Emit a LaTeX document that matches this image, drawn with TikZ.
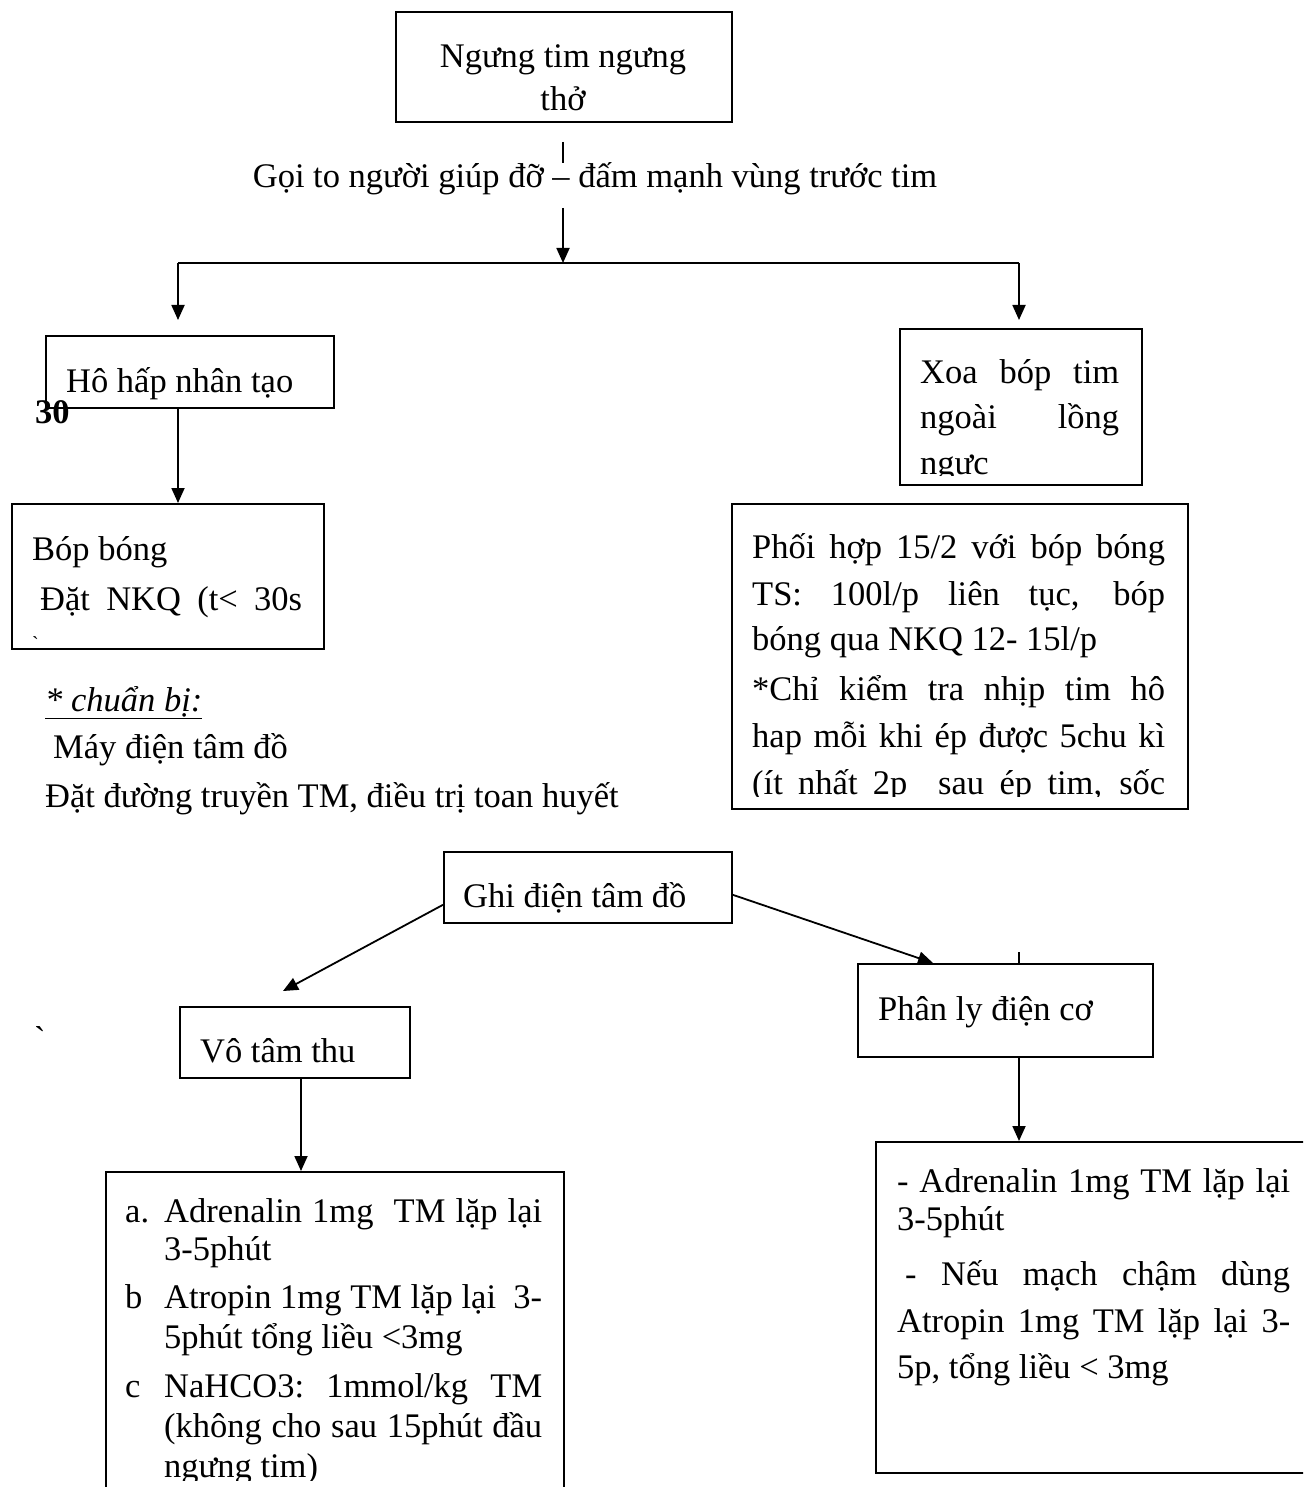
\documentclass[tikz,border=0pt]{standalone}
\usepackage{fontspec}
\setmainfont{Liberation Serif}
\usetikzlibrary{arrows.meta,calc}
\newcommand\myjust[2]{\makebox[#1pt][s]{#2}}
\tikzset{
  box/.style={draw, line width=1.8pt, rectangle, inner sep=0pt, anchor=north west},
  txt/.style={anchor=base west, inner sep=0pt, font=\fontsize{34.5}{46}\selectfont},
  ctxt/.style={txt, anchor=base},
  ln/.style={line width=1.8pt},
  arr/.style={line width=1.8pt, -{Triangle[length=15pt,width=13pt]}},
}
\begin{document}
\begin{tikzpicture}[x=1pt,y=-1pt]
\useasboundingbox (0,0) rectangle (1303,1487);
\clip (0,0) rectangle (1303,1487);
\fill[white] (0,0) rectangle (1303,1487);

% ---- boxes ----
\node[box, minimum width=336pt, minimum height=110pt] (top) at (395,11) {};
\node[box, minimum width=288pt, minimum height=72pt] (ho) at (45,335) {};
\node[box, minimum width=312pt, minimum height=145pt] (bop) at (11,503) {};
\node[box, minimum width=242pt, minimum height=156pt] (xoa) at (899,328) {};
\node[box, minimum width=456pt, minimum height=305pt] (phoi) at (731,503) {};
\node[box, minimum width=288pt, minimum height=71pt] (ghi) at (443,851) {};
\node[box, minimum width=230pt, minimum height=71pt] (vo) at (179,1006) {};
\node[box, minimum width=295pt, minimum height=93pt] (phan) at (857,963) {};
\node[box, minimum width=458pt, minimum height=340pt] (bl) at (105,1171) {};
\node[box, minimum width=432pt, minimum height=331pt] (br) at (875,1141) {};

% ---- reference coordinates ----
\coordinate (xL) at (178,0);
\coordinate (xC) at (563,0);
\coordinate (xR) at (1019,0);
\coordinate (xM) at (301,0);
\coordinate (tickA) at (563,142);
\coordinate (tickB) at (563,163);
\coordinate (arrS) at (563,208);
\coordinate (hL) at (178,263);
\coordinate (hR) at (1019,263);
\coordinate (hC) at (563,263);
\coordinate (tipL) at (178,320);
\coordinate (tipR) at (1019,320);
\coordinate (vtip) at (283,991);
\coordinate (ptick) at (1019,952);

% ---- connectors ----
\draw[ln] (tickA) -- (tickB);
\draw[arr] (arrS) -- (hC);
\draw[ln] (hL) -- (hR);
\draw[arr] (hL) -- (tipL);
\draw[arr] (hR) -- (tipR);
\draw[arr] (ho.south -| xL) -- (bop.north -| xL);
\draw[arr] ($(ghi.south west)+(0,-19)$) -- (vtip);
\draw[arr] ($(ghi.south east)+(0,-29)$) -- ($(phan.north west)+(76,0)$);
\draw[ln] (ptick) -- (phan.north -| xR);
\draw[arr] (phan.south -| xR) -- (br.north -| xR);
\draw[arr] (vo.south -| xM) -- (bl.north -| xM);

% ---- texts ----
\node[ctxt] (t1a) at (563,68) {Ngưng tim ngưng};
\node[ctxt] (t1b) at (563,111) {thở};
\node[ctxt] (goi) at (595,188) {Gọi to người giúp đỡ – đấm mạnh vùng trước tim};

\node[txt] (thot) at (66,392) {Hô hấp nhân tạo};
\node[txt, font=\fontsize{34.5}{46}\selectfont\bfseries] (n30) at (35,423) {30};

\node[txt] (bop1) at (32,560) {Bóp bóng};
\node[txt] (bop2) at (40,610) {\myjust{262}{Đặt NKQ (t< 30s}};
\node[txt, font=\fontsize{20}{24}\selectfont] (bq1) at (32,650) {\textasciigrave};

\begin{scope}
\clip (xoa.north west) rectangle (1141,475);
\node[txt] (xoa1) at (920,383) {\myjust{199}{Xoa bóp tim}};
\node[txt] (xoa2) at (920,428) {\myjust{199}{ngoài lồng}};
\node[txt] (xoa3) at (920,474) {ngực};
\end{scope}

\begin{scope}
\clip (phoi.north west) rectangle (1187,796);
\node[txt] (p1) at (752,558) {\myjust{413}{Phối hợp 15/2 với bóp bóng}};
\node[txt] (p2) at (752,605) {\myjust{413}{TS: 100l/p liên tục, bóp}};
\node[txt] (p3) at (752,650) {bóng qua NKQ 12- 15l/p};
\node[txt] (p4) at (752,700) {\myjust{413}{*Chỉ kiểm tra nhịp tim hô}};
\node[txt] (p5) at (752,747) {\myjust{413}{hap mỗi khi ép được 5chu kì}};
\node[txt] (p6) at (752,794) {\myjust{413}{(ít nhất 2p\ \ sau ép tim, sốc}};
\end{scope}

\node[txt] (cb1) at (45,711) {\underline{\itshape * chuẩn bị:}};
\node[txt] (cb2) at (53,758) {Máy điện tâm đồ};
\node[txt] (cb3) at (45,807) {Đặt đường truyền TM, điều trị toan huyết};

\node[txt] (tghi) at (463,907) {Ghi điện tâm đồ};
\node[txt] (tvo) at (200,1062) {Vô tâm thu};
\node[txt] (bq2) at (34,1050) {\textasciigrave};
\node[txt] (tphan) at (878,1020) {Phân ly điện cơ};

\begin{scope}
\clip (0,0) rectangle (1303,1480);
\node[txt] (la) at (125,1222) {a.};
\node[txt] (a1) at (164,1222) {\myjust{378}{Adrenalin 1mg\ \ TM lặp lại}};
\node[txt] (a2) at (164,1260) {3-5phút};
\node[txt] (lb) at (125,1308) {b};
\node[txt] (b1) at (164,1308) {\myjust{378}{Atropin 1mg TM lặp lại\ \ 3-}};
\node[txt] (b2) at (164,1348) {5phút tổng liều <3mg};
\node[txt] (lc) at (125,1397) {c};
\node[txt] (c1) at (164,1397) {\myjust{378}{NaHCO3:\ \ 1mmol/kg\ \ TM}};
\node[txt] (c2) at (164,1437) {\myjust{378}{(không cho sau 15phút đầu}};
\node[txt] (c3) at (164,1477) {ngưng tim)};
\end{scope}

\node[txt] (r1) at (897,1192) {\myjust{393}{- Adrenalin 1mg TM lặp lại}};
\node[txt] (r2) at (897,1230) {3-5phút};
\node[txt] (r3) at (897,1285) {\myjust{393}{\hspace*{8pt}- Nếu mạch chậm dùng}};
\node[txt] (r4) at (897,1332) {\myjust{393}{Atropin 1mg TM lặp lại 3-}};
\node[txt] (r5) at (897,1378) {5p, tổng liều < 3mg};
\end{tikzpicture}
\end{document}
